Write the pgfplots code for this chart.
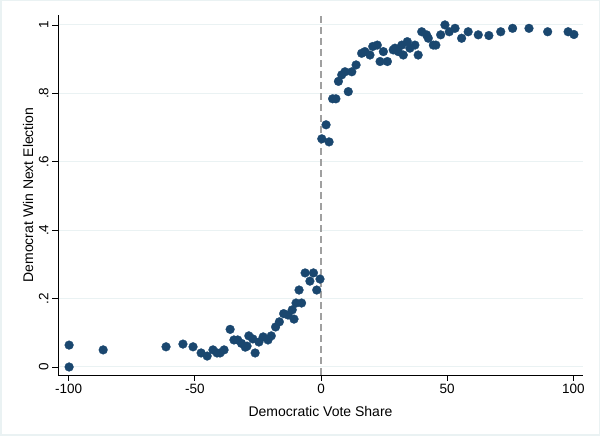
\documentclass[border=0pt]{standalone}
\usepackage{fontspec}
\setmainfont{Liberation Sans}
\usepackage{pgfplots}
\pgfplotsset{compat=1.18}
\definecolor{stnavy}{RGB}{26,71,111}
\definecolor{stgrid}{RGB}{234,242,243}
\definecolor{stdash}{RGB}{160,160,160}

\begin{document}
\begin{tikzpicture}[x=1bp,y=1bp]
\path[use as bounding box] (0,0) rectangle (600,436);
\draw[stgrid, line width=1.5bp] (0.75,0.75) rectangle (599.25,435.25);
\begin{axis}[
    at={(58bp,61bp)}, anchor=south west,
    scale only axis, width=525bp, height=360bp,
    xmin=-104.2, xmax=103.8,
    ymin=-0.0234, ymax=1.029,
    axis x line*=bottom, axis y line*=left,
    axis line style={-, black, line width=0.8bp},
    xtick={-100,-50,0,50,100},
    ytick={0,0.2,0.4,0.6,0.8,1},
    yticklabels={0,.2,.4,.6,.8,1},
    tick align=outside, major tick length=6bp,
    tick style={black, line width=0.8bp},
    ymajorgrids, major grid style={stgrid, line width=1bp},
    /pgf/number format/assume math mode=true,
    every tick label/.append style={font=\fontsize{13.5bp}{15bp}\selectfont},
    yticklabel style={rotate=90, anchor=south},
    label style={font=\fontsize{14bp}{16bp}\selectfont},
    xlabel={Democratic Vote Share},
    ylabel={Democrat Win Next Election},
    xlabel style={at={(axis description cs:0.5,-0.1)}, anchor=center},
    ylabel style={at={(axis description cs:-0.0571,0.5)}, anchor=center},
]
% cutoff at zero
\addplot[stdash, line width=1.5bp, dash pattern=on 7bp off 4bp]
    coordinates {(0,-0.0234) (0,1.029)};

% binned means, left of cutoff
\addplot[only marks, mark=*, mark size=4.4bp,
    mark options={fill=stnavy, draw=stnavy, line width=0.3bp}] table {
x y
-99.8 0.064
-99.8 0.000
-86.3 0.050
-61.4 0.059
-54.7 0.067
-50.7 0.059
-47.5 0.041
-45.1 0.032
-42.8 0.050
-41.2 0.041
-40.0 0.041
-38.4 0.050
-36.0 0.110
-34.5 0.079
-33.0 0.079
-31.5 0.069
-30.0 0.058
-29.3 0.061
-28.6 0.091
-27.0 0.082
-26.1 0.041
-24.6 0.073
-22.9 0.088
-21.0 0.079
-19.7 0.091
-18.0 0.117
-16.5 0.132
-14.8 0.156
-13.1 0.152
-11.4 0.167
-10.7 0.140
-9.9 0.187
-8.7 0.225
-7.7 0.187
-6.3 0.275
-4.4 0.251
-3.0 0.275
-1.7 0.225
-0.4 0.257
};

% binned means, right of cutoff
\addplot[only marks, mark=*, mark size=4.4bp,
    mark options={fill=stnavy, draw=stnavy, line width=0.3bp}] table {
x y
0.3 0.667
2.0 0.708
3.2 0.658
4.6 0.784
5.9 0.784
6.9 0.835
8.2 0.854
9.5 0.863
10.8 0.805
12.2 0.863
13.9 0.883
16.1 0.917
17.4 0.922
19.4 0.912
20.5 0.937
22.3 0.941
23.4 0.893
24.7 0.922
26.3 0.893
28.6 0.927
29.3 0.932
30.6 0.922
32.0 0.941
32.6 0.912
34.2 0.951
35.2 0.932
37.2 0.941
38.5 0.912
39.9 0.980
41.8 0.971
42.5 0.961
44.5 0.941
45.5 0.941
47.4 0.971
49.1 1.000
50.8 0.980
53.1 0.990
55.7 0.961
58.3 0.980
62.3 0.971
66.5 0.969
71.2 0.980
75.9 0.990
82.4 0.990
89.8 0.980
97.9 0.980
100.2 0.972
};
\end{axis}
\end{tikzpicture}
\end{document}
